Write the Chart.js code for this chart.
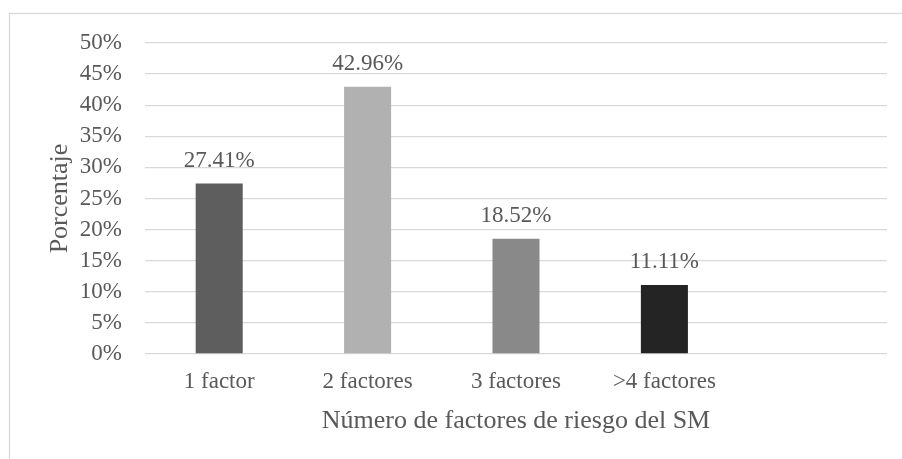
<!DOCTYPE html>
<html>
<head>
<meta charset="utf-8">
<script src="https://cdn.jsdelivr.net/npm/chart.js@4/dist/chart.umd.min.js"></script>
<style>
  html, body { margin: 0; padding: 0; background: #ffffff; }
  #wrap { width: 902px; height: 459px; position: relative; }
</style>
</head>
<body>
<div id="wrap"><canvas id="c" width="902" height="459"></canvas></div>
<script>
// Categories along the x axis (last slot left empty)
const categories = ['1 factor', '2 factores', '3 factores', '>4 factores', ''];
// Percentage of patients per number of metabolic-syndrome risk factors
const percentages = [27.41, 42.96, 18.52, 11.11, null];
const barColors = ['#5e5e5e', '#b1b1b1', '#898989', '#242424', '#000000'];
const yTickMax = 50;
const yTickStep = 5;
const xTitle = 'Número de factores de riesgo del SM';
const yTitle = 'Porcentaje';

const textColor = '#595959';
const gridColor = '#d9d9d9';
const serif = '"Liberation Serif", "Times New Roman", serif';

// Light frame around the whole chart
const framePlugin = {
  id: 'frame',
  beforeDraw(chart) {
    const ctx = chart.ctx;
    ctx.save();
    ctx.fillStyle = '#ffffff';
    ctx.fillRect(0, 0, chart.width, chart.height);
    ctx.strokeStyle = gridColor;
    ctx.lineWidth = 1.3;
    ctx.strokeRect(9.5, 13.5, chart.width + 20, chart.height + 20);
    ctx.restore();
  }
};

// Value labels above each bar
const valueLabelPlugin = {
  id: 'valueLabels',
  afterDatasetsDraw(chart) {
    const ctx = chart.ctx;
    const meta = chart.getDatasetMeta(0);
    ctx.save();
    ctx.font = '23px ' + serif;
    ctx.fillStyle = textColor;
    ctx.textAlign = 'center';
    ctx.textBaseline = 'alphabetic';
    meta.data.forEach((bar, i) => {
      const v = percentages[i];
      if (v === null || v === undefined) return;
      ctx.fillText(v.toFixed(2) + '%', bar.x, bar.y - 17);
    });
    ctx.restore();
  }
};

new Chart(document.getElementById('c'), {
  type: 'bar',
  data: {
    labels: categories,
    datasets: [{
      data: percentages,
      backgroundColor: barColors,
      borderWidth: 0,
      categoryPercentage: 1.0,
      barPercentage: 0.317
    }]
  },
  options: {
    responsive: false,
    animation: false,
    layout: { padding: { left: 41, right: 15, top: 43, bottom: 18 } },
    plugins: {
      legend: { display: false },
      tooltip: { enabled: false }
    },
    scales: {
      x: {
        grid: { display: false, drawTicks: false },
        border: { display: false },
        ticks: {
          color: textColor,
          font: { family: serif, size: 23 },
          padding: 14,
          maxRotation: 0,
          autoSkip: false
        },
        title: {
          display: true,
          text: xTitle,
          color: textColor,
          font: { family: serif, size: 26 },
          padding: { top: 10, bottom: 4 }
        },
        afterFit(scale) { scale.height = 87; }
      },
      y: {
        min: 0,
        max: yTickMax,
        grid: { color: gridColor, lineWidth: 1.3, drawTicks: false },
        border: { display: false },
        ticks: {
          stepSize: yTickStep,
          color: textColor,
          font: { family: serif, size: 23 },
          padding: 23,
          callback: v => v + '%'
        },
        title: {
          display: true,
          text: yTitle,
          color: textColor,
          font: { family: serif, size: 26 },
          padding: { top: 4, bottom: 4 }
        },
        afterFit(scale) { scale.width = 104; }
      }
    }
  },
  plugins: [framePlugin, valueLabelPlugin]
});
</script>
</body>
</html>
